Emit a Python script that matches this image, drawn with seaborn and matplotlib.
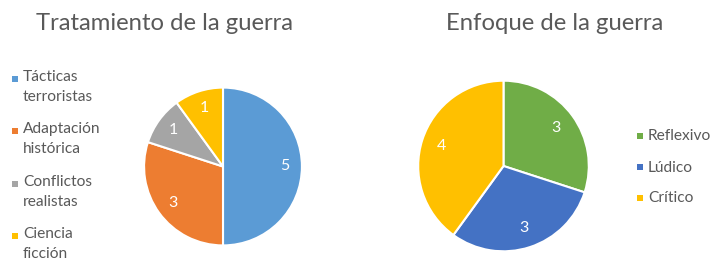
import matplotlib
matplotlib.use("Agg")
import matplotlib.pyplot as plt
from matplotlib.patches import Rectangle
import seaborn as sns

sns.set_theme(style="white")
plt.rcParams['font.family'] = ['Lato', 'DejaVu Sans']

# Data
left_title = "Tratamiento de la guerra"
left_labels = ["Tácticas\nterroristas", "Adaptación\nhistórica", "Conflictos\nrealistas", "Ciencia\nficción"]
left_values = [5, 3, 1, 1]
left_colors = ["#5B9BD5", "#ED7D31", "#A5A5A5", "#FFC000"]

right_title = "Enfoque de la guerra"
right_labels = ["Reflexivo", "Lúdico", "Crítico"]
right_values = [3, 3, 4]
right_colors = ["#70AD47", "#4472C4", "#FFC000"]

W, H = 712, 261
fig = plt.figure(figsize=(W / 100, H / 100), dpi=100)
fig.patch.set_facecolor("white")
txt_color = "#595959"


def px_axes(x0, y0, x1, y1):
    return fig.add_axes([x0 / W, 1 - y1 / H, (x1 - x0) / W, (y1 - y0) / H])


def draw_pie(ax, values, colors, labdist):
    wedges, texts = ax.pie(values, colors=colors, startangle=90, counterclock=False,
                           labels=[str(v) for v in values], labeldistance=labdist,
                           wedgeprops=dict(edgecolor="white", linewidth=1.5),
                           textprops=dict(color="white", fontsize=11.5))
    for t in texts:
        t.set_ha("center")
        t.set_va("center")
    ax.set_xlim(-1.02, 1.02)
    ax.set_ylim(-1.02, 1.02)
    ax.set_axis_off()


axL = px_axes(142, 86, 304, 247)
draw_pie(axL, left_values, left_colors, 0.78)

axR = px_axes(416, 79, 591, 253)
draw_pie(axR, right_values, right_colors, 0.76)

fig.text(164 / W, 1 - 24 / H, left_title, ha="center", va="center", fontsize=17.2, color=txt_color)
fig.text(555 / W, 1 - 24 / H, right_title, ha="center", va="center", fontsize=17.2, color=txt_color)

# Left legend
for i, (lab, col) in enumerate(zip(left_labels, left_colors)):
    yc = 79 + i * 52.3
    fig.patches.append(Rectangle((12 / W, 1 - (yc + 3) / H), 6 / W, 6 / H,
                                 transform=fig.transFigure, facecolor=col, edgecolor="none"))
    fig.text(23 / W, 1 - (yc - 9) / H, lab, ha="left", va="top", fontsize=11.2,
             color=txt_color, linespacing=1.55)

# Right legend
for i, (lab, col) in enumerate(zip(right_labels, right_colors)):
    yc = 136 + i * 31
    fig.patches.append(Rectangle((637 / W, 1 - (yc + 3) / H), 6 / W, 6 / H,
                                 transform=fig.transFigure, facecolor=col, edgecolor="none"))
    fig.text(648 / W, 1 - (yc + 0.5) / H, lab, ha="left", va="center", fontsize=11.2, color=txt_color)

fig.savefig("out.png", dpi=100, facecolor="white")
